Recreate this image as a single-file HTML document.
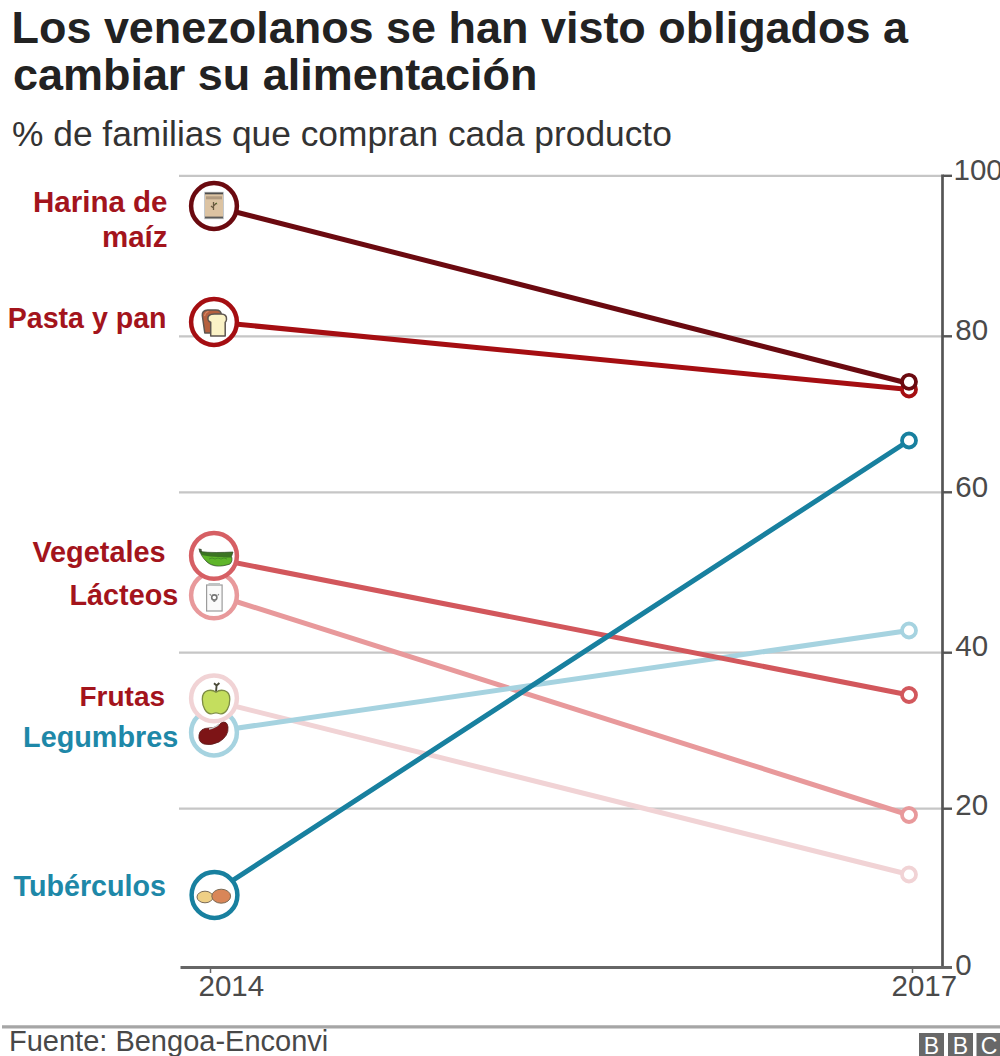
<!DOCTYPE html>
<html><head><meta charset="utf-8">
<style>
html,body{margin:0;padding:0;background:#fff;}
body{width:1000px;height:1056px;overflow:hidden;position:relative;}
svg{position:absolute;left:0;top:0;}
text{font-family:"Liberation Sans",sans-serif;}
</style></head>
<body>
<svg width="1000" height="1056" viewBox="0 0 1000 1056">
  <!-- title -->
  <text x="11.5" y="43" font-size="44.95" font-weight="bold" fill="#222">Los venezolanos se han visto obligados a</text>
  <text x="13" y="90" font-size="44.95" font-weight="bold" fill="#222">cambiar su alimentación</text>
  <text x="12" y="146" font-size="35.35" fill="#333">% de familias que compran cada producto</text>

  <!-- gridlines -->
  <g stroke="#c6c6c6" stroke-width="2.2">
    <line x1="179" y1="175.8" x2="943" y2="175.8"/>
    <line x1="179" y1="336.3" x2="943" y2="336.3"/>
    <line x1="179" y1="492.3" x2="943" y2="492.3"/>
    <line x1="179" y1="652.7" x2="943" y2="652.7"/>
    <line x1="179" y1="808.7" x2="943" y2="808.7"/>
  </g>
  <g stroke="#555" stroke-width="2.4">
    <line x1="943" y1="175.8" x2="952" y2="175.8"/>
    <line x1="943" y1="336.3" x2="952" y2="336.3"/>
    <line x1="943" y1="492.3" x2="952" y2="492.3"/>
    <line x1="943" y1="652.7" x2="952" y2="652.7"/>
    <line x1="943" y1="808.7" x2="952" y2="808.7"/>
  </g>
  <!-- axes -->
  <line x1="942.5" y1="174.6" x2="942.5" y2="969" stroke="#555" stroke-width="2.7"/>
  <line x1="180.5" y1="967.5" x2="952" y2="967.5" stroke="#666" stroke-width="3"/>
  <line x1="210.5" y1="967" x2="210.5" y2="973" stroke="#666" stroke-width="1.5"/>
  <line x1="912.5" y1="967" x2="912.5" y2="973" stroke="#666" stroke-width="1.5"/>

  <!-- axis labels -->
  <g font-size="29.5" fill="#4a4a4a">
    <text x="953.5" y="180">100</text>
    <text x="955.3" y="340">80</text>
    <text x="955.3" y="497">60</text>
    <text x="955.3" y="655.5">40</text>
    <text x="955.3" y="815.3">20</text>
    <text x="955.3" y="975">0</text>
    <text x="198.5" y="996">2014</text>
    <text x="891.5" y="996">2017</text>
  </g>

  <!-- lines -->
  <g stroke-width="5" fill="none" stroke-linecap="round">
    <line x1="214" y1="701" x2="909" y2="874.5" stroke="#f1d3d5"/>
    <line x1="214" y1="594.5" x2="909" y2="815" stroke="#e8999b"/>
    <line x1="214" y1="731.5" x2="909" y2="630.5" stroke="#a6d3e0"/>
    <line x1="214" y1="558.5" x2="909" y2="695" stroke="#d2575c"/>
    <line x1="214" y1="322" x2="909" y2="389.5" stroke="#a50e12"/>
    <line x1="214" y1="206.5" x2="909" y2="383.5" stroke="#6b0a10"/>
    <line x1="214" y1="892.5" x2="909" y2="440.5" stroke="#18809f"/>
  </g>
  <!-- end circles -->
  <g fill="#fff" stroke-width="3.8">
    <circle cx="909" cy="874.5" r="7" stroke="#f1d3d5"/>
    <circle cx="909" cy="815" r="7" stroke="#e8999b"/>
    <circle cx="909" cy="630.5" r="7" stroke="#a6d3e0"/>
    <circle cx="909" cy="695" r="7" stroke="#d2575c"/>
    <circle cx="909" cy="389.5" r="7" stroke="#a50e12"/>
    <circle cx="909" cy="381.8" r="7" stroke="#6b0a10"/>
    <circle cx="909" cy="440.5" r="7" stroke="#18809f"/>
  </g>
  <!-- start circles -->
  <g fill="#fff" stroke-width="4.5">
    <circle cx="214" cy="206" r="22.9" stroke="#6b0a10"/>
    <circle cx="214" cy="322" r="22.9" stroke="#a50e12"/>
    <circle cx="214" cy="595.3" r="22.9" stroke="#e8999b"/>
    <circle cx="214" cy="555.8" r="22.9" stroke="#d65f64"/>
    <circle cx="214" cy="732.5" r="22.9" stroke="#a6d3e0"/>
    <circle cx="214" cy="698.3" r="22.9" stroke="#f1d3d5"/>
    <circle cx="214.5" cy="895" r="22.9" stroke="#18809f"/>
  </g>

  <!-- icons -->
  <!-- flour bag -->
  <g>
    <rect x="204.5" y="192.3" width="19" height="26.4" fill="#dcc3a2" stroke="#c4c8cc" stroke-width="1"/>
    <rect x="205" y="192.5" width="18" height="1.8" fill="#4e4e4e"/>
    <rect x="205" y="216.6" width="18" height="1.8" fill="#5a5a5a"/>
    <rect x="206" y="196.3" width="16" height="3" fill="#b09a80"/>
    <path d="M213.5 210 v-8 M213.5 206 l2.5 -2.5 M213.5 208 l-2.5 -2" stroke="#6b5a40" stroke-width="1.3" fill="none"/>
    <path d="M215 203.5 l1.8 -1 l0.5 2z" fill="#556b30"/>
  </g>
  <!-- toast -->
  <g stroke="#5e5650" stroke-width="1.5" stroke-linejoin="round">
    <path d="M202.3 315.5 q-0.5 -5 5.5 -5.5 h8 q5.5 0 5.5 5 l-1 18 h-15.5 z" fill="#b5603f"/>
    <path d="M204.5 316 q1 -4 4 -4.5" fill="none" stroke="#d98a68" stroke-width="1.2"/>
    <path d="M208 319.5 q-1 -5.5 6.5 -5.5 h6.5 q6 0 5.5 5.5 q-0.3 2 -1.3 2.8 v13.7 h-14.5 v-13.7 q-2.2 -0.8 -2.7 -2.8z" fill="#fbf3c6"/>
  </g>
  <!-- pea pod -->
  <g>
    <path d="M198.5 548.5 l3 0.5 l0.5 3 l-2.5 0.5z" fill="#4a5a40"/>
    <path d="M200 551.5 C210 553 222 552.5 233 552 L231.5 556.5 C232.5 559 232 562 230 564 C220 567.5 212 566.5 207 562 C203 558 201 555 200 551.5Z" fill="#3b7423" stroke="#2f4a25" stroke-width="0.7"/>
    <path d="M201.8 555 C207 556.5 220 557.5 231.3 557.5 C232 560 231.5 562 229.8 563.6 C220 567 212.5 566 207.5 561.8 C204.5 559.5 203 557.5 201.8 555Z" fill="#5fb52a"/>
    <path d="M209 559 q3 -2 6 0 q3 -2 6 0 q3 -2 6 0" fill="none" stroke="#3f8a24" stroke-width="0.8"/>
  </g>
  <!-- milk carton -->
  <g>
    <rect x="206.6" y="585" width="15.5" height="26" fill="#fafafa" stroke="#9c9c9c" stroke-width="1.2"/>
    <rect x="208.5" y="583" width="11.5" height="2.4" fill="#bfc4c4"/>
    <circle cx="214.3" cy="597.5" r="2.6" fill="#fff" stroke="#777" stroke-width="1.6"/>
    <path d="M210.8 595.5 l-1 -1.5 M217.8 595.5 l1 -1.5" stroke="#888" stroke-width="1.2"/>
    <path d="M213.3 600.5 h2 v1.5 h-2z" fill="#888"/>
  </g>
  <!-- apple -->
  <g>
    <path d="M216 692 l0.6 -6.5 m0 0 l2.8 -2.5 m-2.8 2.5 l-2.6 -2.2" stroke="#4a4a38" stroke-width="1.9" fill="none"/>
    <path d="M216 692.2 C212 689.2 202.3 688.8 202.3 699.2 C202.3 707 206 713.8 211 713.8 C213 713.8 214.5 712.8 216 712.8 C217.5 712.8 219 713.8 221 713.8 C226 713.8 229.8 707 229.8 699.2 C229.8 688.8 220 689.2 216 692.2Z" fill="#c4de5e" stroke="#7d8c45" stroke-width="1.3"/>
  </g>
  <!-- bean -->
  <g>
    <path d="M199 735 q1 -7 10 -7 q8 0 12 -5 q6 -3 7 4 q1 9 -9 15 q-8 4 -15 2 q-6 -2 -5 -9z" fill="#7d1416" stroke="#5a1a1a" stroke-width="0.8"/>
    <path d="M209 729 q6 -1 10 -5" stroke="#c9c9c9" stroke-width="1.3" fill="none"/>
  </g>
  <!-- potatoes -->
  <g stroke="#7a6a55" stroke-width="1">
    <ellipse cx="205" cy="897" rx="8" ry="5.8" fill="#efcf85"/>
    <ellipse cx="221.2" cy="896.2" rx="9.4" ry="7" fill="#d98658"/>
  </g>

  <!-- labels -->
  <g font-weight="bold" text-anchor="end">
    <text x="167.5" y="212.4" font-size="29.5" fill="#a3141c">Harina de</text>
    <text x="167.5" y="246.6" font-size="29.5" fill="#a3141c">maíz</text>
    <text x="166.6" y="327.8" font-size="28.6" fill="#a3141c">Pasta y pan</text>
    <text x="165.7" y="562.4" font-size="28.9" fill="#a3141c">Vegetales</text>
    <text x="178.3" y="604.7" font-size="28.8" fill="#a3141c">Lácteos</text>
    <text x="165.1" y="706" font-size="28" fill="#a3141c">Frutas</text>
    <text x="178.3" y="746.5" font-size="28.8" fill="#1e88a8">Legumbres</text>
    <text x="166" y="895.5" font-size="28.7" fill="#1e88a8">Tubérculos</text>
  </g>

  <!-- footer -->
  <line x1="2" y1="1026.8" x2="1000" y2="1026.8" stroke="#a6a6a6" stroke-width="3.2"/>
  <text x="9" y="1051.4" font-size="29" fill="#484848">Fuente: Bengoa-Enconvi</text>
  <g fill="#686868">
    <rect x="919" y="1033" width="25" height="23"/>
    <rect x="948" y="1033" width="25" height="23"/>
    <rect x="976.5" y="1033" width="25" height="23"/>
  </g>
  <g fill="#fff" font-size="23" font-weight="normal" text-anchor="middle">
    <text x="931.5" y="1054">B</text>
    <text x="960.5" y="1054">B</text>
    <text x="989" y="1054">C</text>
  </g>
</svg>
</body></html>
